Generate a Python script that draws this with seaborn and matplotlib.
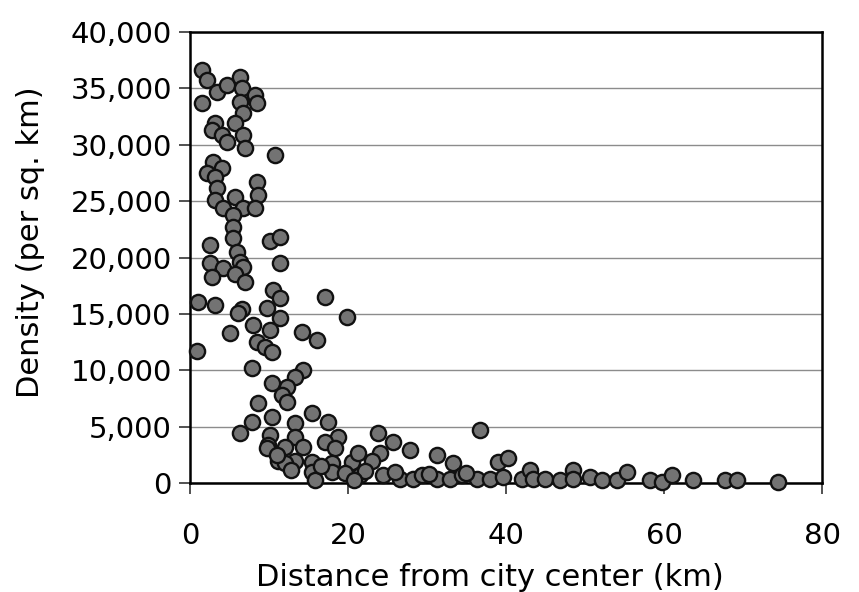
import pandas as pd
import numpy as np
import matplotlib
matplotlib.use('Agg')
import matplotlib.pyplot as plt
import matplotlib.ticker as mticker
import seaborn as sns

# Distance from city center (km) and density (per sq. km)
distance = [
    1.5, 2.2, 3.5, 4.7, 6.3, 6.6, 8.2, 8.5, 1.5, 6.3,
    6.7, 3.2, 5.7, 2.8, 4.1, 6.7, 4.7, 7.0, 10.8, 2.9,
    4.1, 2.2, 3.2, 8.5, 8.6, 3.4, 3.2, 5.7, 4.2, 6.7,
    8.2, 5.4, 5.4, 5.4, 2.5, 10.1, 11.4, 6.0, 2.5, 4.2,
    6.3, 6.7, 11.4, 2.8, 5.7, 7.0, 10.5, 11.4, 17.1, 1.0,
    3.2, 6.6, 6.1, 9.8, 11.4, 19.9, 8.0, 10.1, 5.1, 14.2,
    16.1, 8.5, 9.5, 10.4, 0.9, 7.9, 14.3, 13.3, 10.4, 12.3,
    11.7, 12.3, 8.6, 15.4, 10.4, 7.9, 17.5, 13.3, 6.3, 10.1,
    18.7, 13.3, 9.9, 9.8, 12.0, 14.3, 17.1, 18.4, 11.1, 13.3,
    15.4, 18.0, 12.0, 15.4, 18.0, 20.5, 21.3, 15.8, 19.6, 21.5,
    23.8, 25.7, 27.9, 36.7, 31.3, 33.3, 39.0, 40.3, 24.1, 23.0,
    24.4, 26.6, 28.2, 29.4, 31.3, 32.9, 34.4, 36.3, 38.0, 39.6,
    42.0, 43.0, 43.4, 44.9, 46.8, 48.5, 48.5, 50.6, 52.2, 54.1,
    55.3, 58.2, 59.8, 61.0, 63.7, 67.7, 69.2, 74.4,
    11.0, 12.8, 16.6, 22.2, 20.8, 26.0, 30.2, 35.0,
]
density = [
    36600, 35700, 34700, 35300, 36000, 35000, 34400, 33700, 33700, 33800,
    32800, 31900, 31900, 31300, 30900, 30900, 30200, 29700, 29100, 28500,
    27900, 27500, 27100, 26700, 25500, 26200, 25100, 25400, 24400, 24400,
    24400, 23800, 22700, 21700, 21100, 21500, 21800, 20500, 19500, 19100,
    19600, 19200, 19500, 18300, 18500, 17800, 17100, 16400, 16500, 16100,
    15800, 15400, 15100, 15500, 14600, 14700, 14000, 13600, 13300, 13400,
    12700, 12500, 12100, 11600, 11700, 10200, 10000, 9400, 8900, 8500,
    7800, 7200, 7100, 6200, 5900, 5400, 5400, 5300, 4400, 4300,
    4100, 4100, 3400, 3100, 3200, 3200, 3600, 3100, 2000, 2000,
    1900, 1800, 1800, 1000, 1000, 1900, 2700, 300, 900, 700,
    4400, 3600, 2900, 4700, 2500, 1800, 1900, 2200, 2700, 2000,
    700, 400, 400, 700, 400, 400, 700, 400, 400, 500,
    400, 1200, 400, 400, 300, 1200, 400, 500, 300, 300,
    1000, 300, 100, 700, 300, 300, 300, 100,
    2500, 1200, 1500, 1100, 300, 1000, 800, 900,
]

df = pd.DataFrame({'Distance': distance, 'Density': density})

sns.set_style('white')
plt.rcParams['font.family'] = ['DejaVu Sans']
for key in ['text.color', 'axes.labelcolor', 'xtick.color', 'ytick.color']:
    plt.rcParams[key] = 'black'

fig = plt.figure(figsize=(8.59, 5.92), dpi=100)
ax = fig.add_axes([0.221, 0.184, 0.736, 0.762])

sns.scatterplot(x='Distance', y='Density', data=df, ax=ax,
                s=120, color='#737373', edgecolor='#111111', linewidth=1.7,
                clip_on=False, zorder=3)

ax.set_xlim(0, 80)
ax.set_ylim(0, 40000)
ax.set_xticks([0, 20, 40, 60, 80])
ax.set_yticks(np.arange(0, 40001, 5000))
ax.yaxis.set_major_formatter(mticker.StrMethodFormatter('{x:,.0f}'))

ax.grid(axis='y', color='#8c8c8c', linewidth=1.0)
ax.grid(axis='x', visible=False)
ax.set_axisbelow(True)

for s in ax.spines.values():
    s.set_visible(True)
    s.set_color('black')
    s.set_linewidth(1.8)

ax.tick_params(axis='y', direction='out', length=8, width=1.2, pad=5,
               labelsize=21, left=True, color='#333333')
ax.tick_params(axis='x', direction='out', length=8, width=1.2, pad=20,
               labelsize=21, bottom=True, color='#333333')

ax.set_xlabel('Distance from city center (km)', fontsize=22)
ax.set_ylabel('Density (per sq. km)', fontsize=22)
ax.xaxis.set_label_coords(0.475, -0.178)
ax.yaxis.set_label_coords(-0.229, 0.534)

fig.savefig('out.png', dpi=100, facecolor='white')
